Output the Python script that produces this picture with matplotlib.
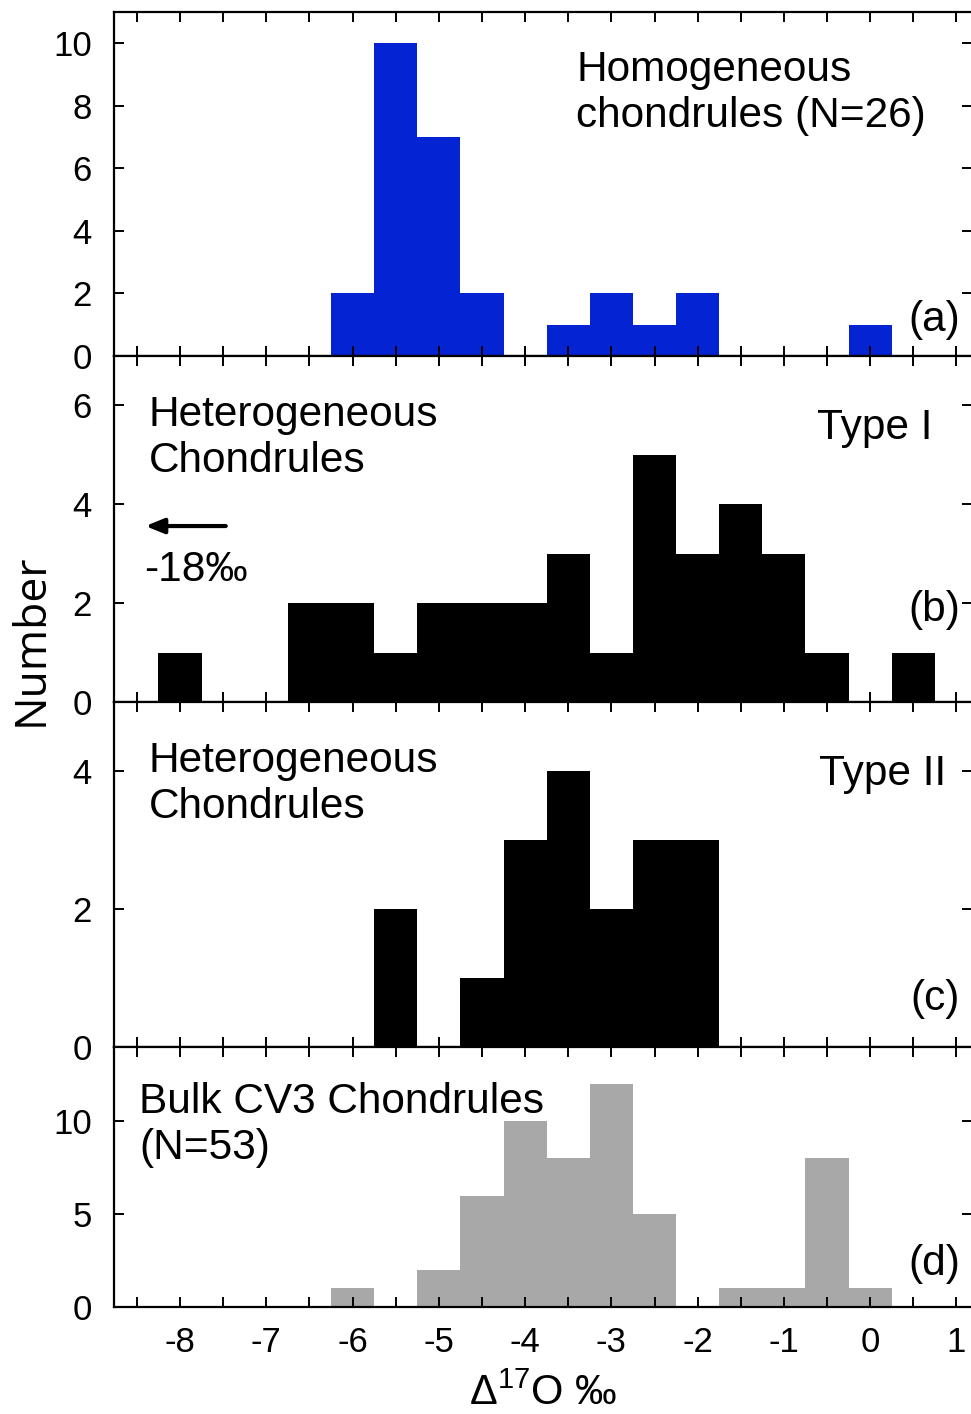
import matplotlib
matplotlib.use("Agg")
import matplotlib.pyplot as plt
from matplotlib.ticker import MultipleLocator

# Δ17O bin centres (‰) and counts per bin, 0.5‰ wide bins
homog_centers = [-6.0, -5.5, -5.0, -4.5, -3.5, -3.0, -2.5, -2.0, 0.0]
homog_counts = [2, 10, 7, 2, 1, 2, 1, 2, 1]

type1_centers = [-8.0, -6.5, -6.0, -5.5, -5.0, -4.5, -4.0, -3.5, -3.0,
                 -2.5, -2.0, -1.5, -1.0, -0.5, 0.5]
type1_counts = [1, 2, 2, 1, 2, 2, 2, 3, 1, 5, 3, 4, 3, 1, 1]

type2_centers = [-5.5, -4.5, -4.0, -3.5, -3.0, -2.5, -2.0]
type2_counts = [2, 1, 3, 4, 2, 3, 3]

bulk_centers = [-6.0, -5.0, -4.5, -4.0, -3.5, -3.0, -2.5, -1.5, -1.0, -0.5, 0.0]
bulk_counts = [1, 2, 6, 10, 8, 12, 5, 1, 1, 8, 1]

x_tick_values = [-8, -7, -6, -5, -4, -3, -2, -1, 0, 1]
x_tick_labels = ["-8", "-7", "-6", "-5", "-4", "-3", "-2", "-1", "0", "1"]

BIN_WIDTH = 0.5
FONT = "Liberation Sans"
ANN = 30.5

plt.rcParams["font.family"] = [FONT, "DejaVu Sans"]
plt.rcParams["mathtext.fontset"] = "custom"
plt.rcParams["mathtext.rm"] = FONT
plt.rcParams["mathtext.default"] = "regular"

fig = plt.figure(figsize=(9.71, 14.14), dpi=100)

left, width = 114 / 971, 858 / 971
H = 1414.0
panel_px = [(12, 356), (356, 702), (702, 1047), (1047, 1307)]
axes = []
for top, bot in panel_px:
    ax = fig.add_axes([left, 1 - bot / H, width, (bot - top) / H])
    axes.append(ax)

ax_a, ax_b, ax_c, ax_d = axes

ax_a.bar(homog_centers, homog_counts, width=BIN_WIDTH, color="#0424D4", linewidth=0)
ax_b.bar(type1_centers, type1_counts, width=BIN_WIDTH, color="black", linewidth=0)
ax_c.bar(type2_centers, type2_counts, width=BIN_WIDTH, color="black", linewidth=0)
ax_d.bar(bulk_centers, bulk_counts, width=BIN_WIDTH, color="#A8A8A8", linewidth=0)

ylims = [(0, 11), (0, 7), (0, 5), (0, 14)]
ysteps = [2, 2, 2, 5]
for ax, yl, ys in zip(axes, ylims, ysteps):
    ax.set_xlim(-8.765, 1.18)
    ax.set_ylim(*yl)
    ax.yaxis.set_major_locator(MultipleLocator(ys))
    ax.set_xticks(x_tick_values)
    ax.xaxis.set_minor_locator(MultipleLocator(0.5))
    ax.tick_params(axis="both", which="both", direction="in", length=7,
                   width=1.4, top=True, right=True, labelsize=25)
    ax.tick_params(axis="y", pad=16)
    for s in ax.spines.values():
        s.set_linewidth(1.6)
    if ax is not ax_d:
        ax.set_xticklabels([])
    else:
        ax.set_xticklabels(x_tick_labels)
        ax.tick_params(axis="x", pad=14)

# Panel annotations (baseline of the last line is anchored)
ax_a.text(-3.41, 7.31, "Homogeneous\nchondrules (N=26)", fontsize=ANN,
          ha="left", va="baseline")
ax_a.text(1.04, 0.8, "(a)", fontsize=ANN, ha="right", va="baseline")

ax_b.text(-8.36, 4.65, "Heterogeneous\nChondrules", fontsize=ANN,
          ha="left", va="baseline")
ax_b.text(0.72, 5.33, "Type I", fontsize=ANN, ha="right", va="baseline")
ax_b.annotate("", xy=(-8.4, 3.56), xytext=(-7.47, 3.56),
              arrowprops=dict(arrowstyle="-|>,head_length=1.1,head_width=0.45",
                              color="black", lw=3, shrinkA=0, shrinkB=0))
ax_b.text(-8.42, 2.44, "-18‰", fontsize=ANN, ha="left", va="baseline")
ax_b.text(1.04, 1.63, "(b)", fontsize=ANN, ha="right", va="baseline")

ax_c.text(-8.36, 3.32, "Heterogeneous\nChondrules", fontsize=ANN,
          ha="left", va="baseline")
ax_c.text(0.88, 3.80, "Type II", fontsize=ANN, ha="right", va="baseline")
ax_c.text(1.04, 0.54, "(c)", fontsize=ANN, ha="right", va="baseline")

ax_d.text(-8.475, 7.95, "Bulk CV3 Chondrules\n(N=53)", fontsize=ANN,
          ha="left", va="baseline")
ax_d.text(1.04, 1.73, "(d)", fontsize=ANN, ha="right", va="baseline")

ax_d.set_xlabel("Δ$^{17}$O ‰", fontsize=30, labelpad=10)
fig.text(0.032, 1 - 640 / H, "Number", rotation=90, fontsize=32,
         family=["Open Sans", "DejaVu Sans"], ha="center", va="center")

fig.savefig("out.png", dpi=100)
